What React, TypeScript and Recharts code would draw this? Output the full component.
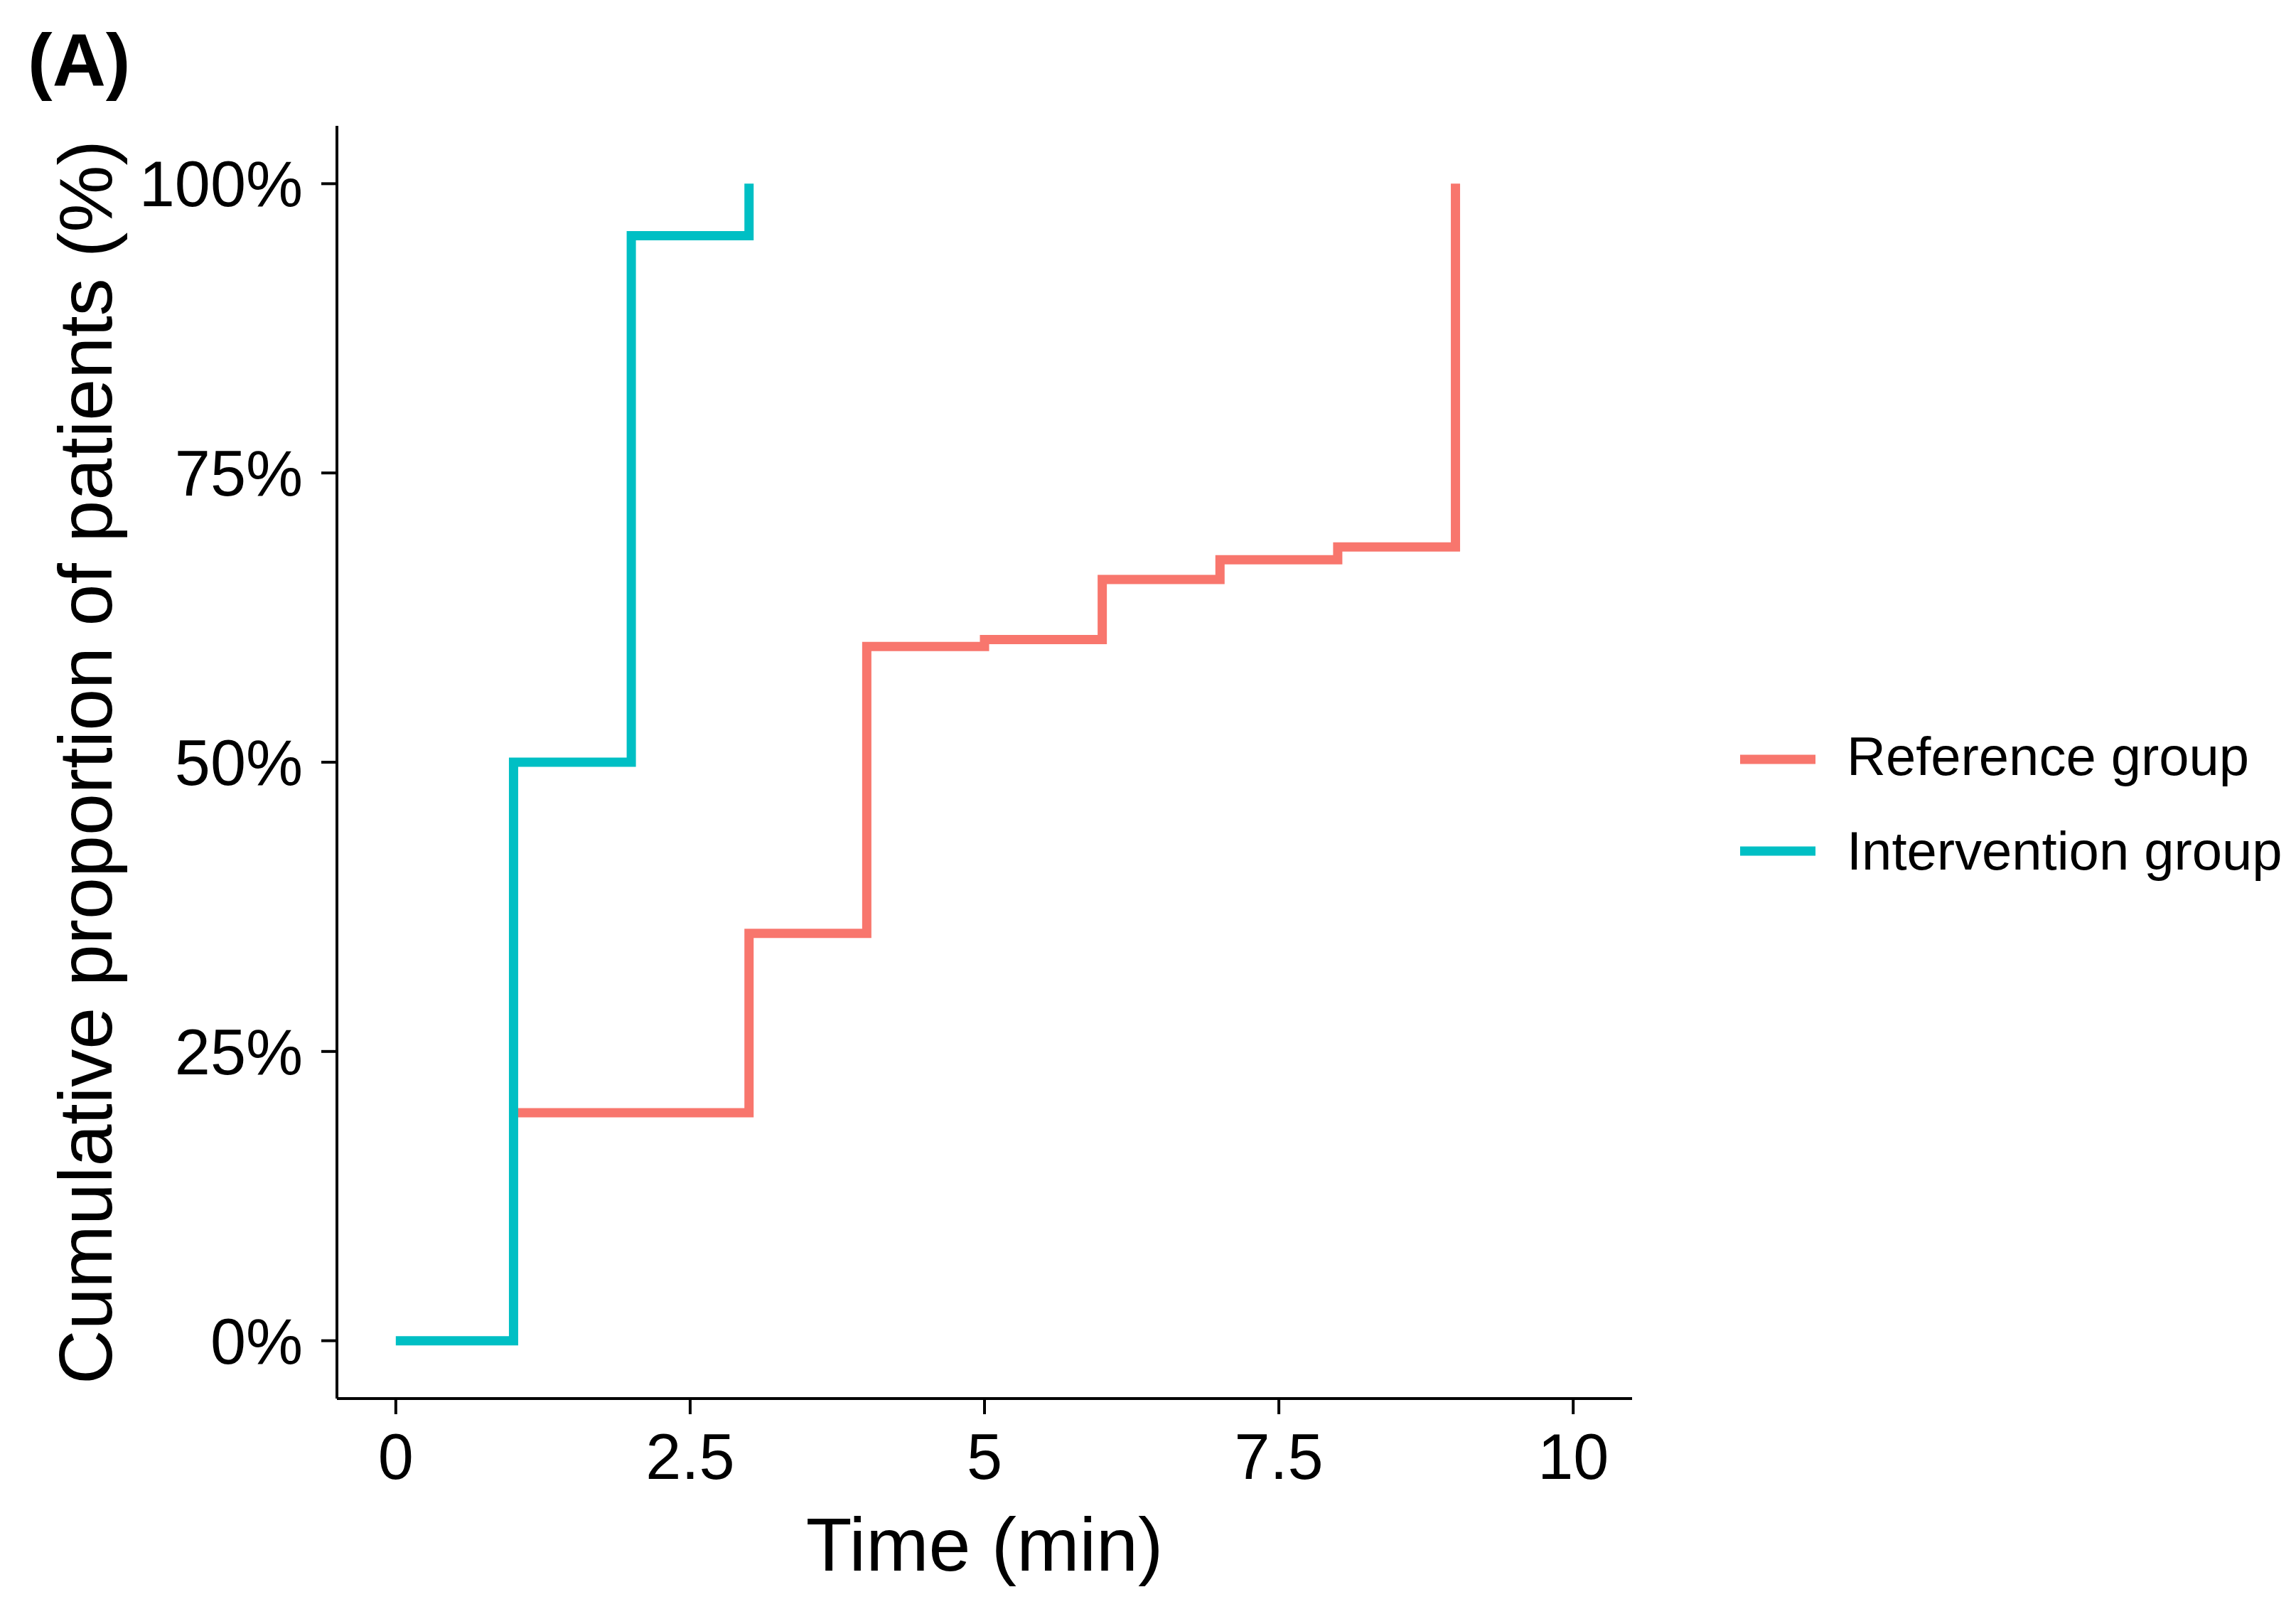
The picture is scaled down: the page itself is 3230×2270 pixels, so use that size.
import { Legend, Line, LineChart, XAxis, YAxis } from 'recharts';

const FONT = '"Liberation Sans", Arial, "DejaVu Sans", sans-serif';
const REF_COLOR = '#F8766D';
const INT_COLOR = '#00BFC4';

// step points (time in min, cumulative %)
const refTime = [1, 3, 4, 5, 6, 7, 8, 9];
const refPct = [19.7, 35.2, 60.0, 60.6, 65.8, 67.5, 68.6, 100];
const intTime = [0, 1, 2, 3];
const intPct = [0, 50, 95.5, 100];

const seriesNames = ['Reference group', 'Intervention group'];
const xTicks = [0, 2.5, 5, 7.5, 10];
const yTicks = [0, 25, 50, 75, 100];

const refData = refTime.map((time, i) => ({ time, pct: refPct[i] }));
const intData = intTime.map((time, i) => ({ time, pct: intPct[i] }));

function LegendBox({ payload }: { payload?: Array<{ value: string; color: string }> }) {
  const items = [...(payload ?? [])].sort((a, b) => seriesNames.indexOf(a.value) - seriesNames.indexOf(b.value));
  return (
    <svg height={260} width={800}>
      {items.map((item, index) => (
        <g key={item.value}>
          <line stroke={item.color} strokeWidth={13} x1={8} x2={114} y1={68 + index * 129} y2={68 + index * 129} />
          <text fill="#000" fontFamily={FONT} fontSize={76} x={158} y={90 + index * 133}>
            {item.value}
          </text>
        </g>
      ))}
    </svg>
  );
}

export default function App() {
  return (
    <div style={{ position: 'relative', width: 3214, height: 2254, background: '#fff' }}>
      <div style={{ position: 'absolute', left: 31, top: 24, fontFamily: FONT, fontSize: 104, fontWeight: 700, lineHeight: 1, color: '#000' }}>
        (A)
      </div>
      <LineChart height={2254} margin={{ top: 169, right: 926, bottom: 95, left: 166 }} width={3214}>
        <XAxis
          allowDataOverflow
          axisLine={{ stroke: '#000', strokeWidth: 4 }}
          dataKey="time"
          domain={[-0.5, 10.5]}
          height={200}
          interval={0}
          label={{
            content: (props: any) => {
              const vb = props.viewBox ?? { x: 0, y: 0, width: 0 };
              return (
                <text fill="#000" fontFamily={FONT} fontSize={106} textAnchor="middle" x={vb.x + vb.width / 2} y={vb.y + 242}>
                  Time (min)
                </text>
              );
            }
          }}
          tick={{ fill: '#000', fontFamily: FONT, fontSize: 90 }}
          tickLine={{ stroke: '#000', strokeWidth: 4 }}
          tickMargin={27}
          tickSize={22}
          ticks={xTicks}
          type="number"
        />
        <YAxis
          allowDataOverflow
          axisLine={{ stroke: '#000', strokeWidth: 4 }}
          dataKey="pct"
          domain={[-5, 105]}
          interval={0}
          label={{
            content: (props: any) => {
              const vb = props.viewBox ?? { x: 0, y: 0, height: 0 };
              const cx = vb.x - 54;
              const cy = vb.y + vb.height / 2;
              return (
                <text
                  dominantBaseline="central"
                  fill="#000"
                  fontFamily={FONT}
                  fontSize={106}
                  textAnchor="middle"
                  transform={`rotate(-90 ${cx} ${cy})`}
                  x={cx}
                  y={cy}
                >
                  Cumulative proportion of patients (%)
                </text>
              );
            }
          }}
          tick={{ fill: '#000', fontFamily: FONT, fontSize: 90 }}
          tickFormatter={(v: number) => `${v}%`}
          tickLine={{ stroke: '#000', strokeWidth: 4 }}
          tickMargin={26}
          tickSize={22}
          ticks={yTicks}
          type="number"
          width={300}
        />
        <Legend
          align="center"
          content={(props: any) => <LegendBox payload={props.payload} />}
          layout="vertical"
          verticalAlign="middle"
          wrapperStyle={{ left: 2432, top: 992, width: 800, height: 260 }}
        />
        <Line
          activeDot={false}
          data={refData}
          dataKey="pct"
          dot={false}
          isAnimationActive={false}
          name={seriesNames[0]}
          stroke={REF_COLOR}
          strokeLinecap="butt"
          strokeWidth={13}
          type="stepAfter"
        />
        <Line
          activeDot={false}
          data={intData}
          dataKey="pct"
          dot={false}
          isAnimationActive={false}
          name={seriesNames[1]}
          stroke={INT_COLOR}
          strokeLinecap="butt"
          strokeWidth={13}
          type="stepAfter"
        />
      </LineChart>
    </div>
  );
}
